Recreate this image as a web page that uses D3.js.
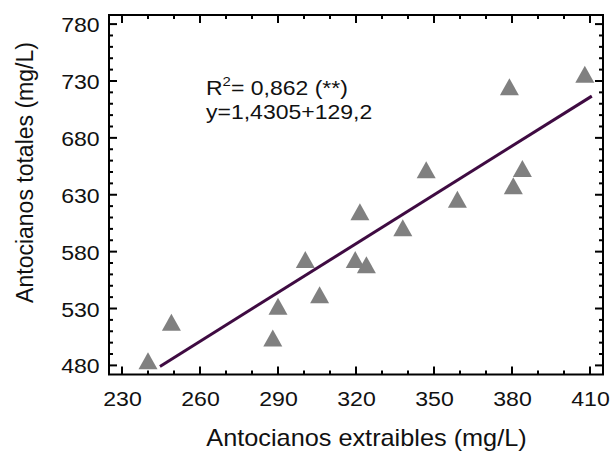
<!DOCTYPE html>
<html>
<head>
<meta charset="utf-8">
<script src="https://cdn.jsdelivr.net/npm/d3@7"></script>
<style>
  html, body { margin: 0; padding: 0; background: #fff; }
  svg text { font-family: "Liberation Sans", Arial, Helvetica, sans-serif; fill: #111; }
</style>
</head>
<body>
<svg id="chart" width="611" height="453"></svg>
<script>
// Antocianos extraibles (x) vs antocianos totales (y), mg/L
const extraibles = [240, 249, 288, 290, 300.5, 306, 319.7, 321.5, 324, 338, 347, 359, 379, 380.5, 384, 408];
const totales    = [484, 518, 504, 532, 573, 542, 573, 615, 568.5, 601, 652, 626, 725, 638, 653, 736];

// Regression y = a*x + b, drawn across the fitted span
const slope = 1.4305;
const intercept = 129.2;
const fitSpan = [244.6, 410.7];

const xTickValues = [230, 260, 290, 320, 350, 380, 410];
const yTickValues = [480, 530, 580, 630, 680, 730, 780];
const xTitle = "Antocianos extraibles (mg/L)";
const yTitle = "Antocianos totales  (mg/L)";
const r2Text = "0,862 (**)";
const eqText = "y=1,4305+129,2";

const svg = d3.select("#chart");
const plotL = 109, plotR = 603, plotT = 15, plotB = 374.5;
const wide = "scale(1.1,1)";   // slightly widened lettering

const x = d3.scaleLinear().domain([225, 415]).range([plotL, plotR]);
const y = d3.scaleLinear().domain([472, 788]).range([plotB, plotT]);

const minorX = d3.range(230, 411, 10);
const minorY = d3.range(480, 781, 10);

// tick marks drawn inward on all four sides
const tickG = svg.append("g").attr("stroke", "#000").attr("stroke-width", 2);
const isMajorX = v => xTickValues.includes(v);
const isMajorY = v => yTickValues.includes(v);

minorX.forEach(v => {
  const len = isMajorX(v) ? 8 : 4;
  tickG.append("line").attr("x1", x(v)).attr("x2", x(v)).attr("y1", plotB).attr("y2", plotB - len);
  tickG.append("line").attr("x1", x(v)).attr("x2", x(v)).attr("y1", plotT).attr("y2", plotT + len);
});
minorY.forEach(v => {
  const len = isMajorY(v) ? 8 : 4;
  tickG.append("line").attr("y1", y(v)).attr("y2", y(v)).attr("x1", plotL).attr("x2", plotL + len);
  tickG.append("line").attr("y1", y(v)).attr("y2", y(v)).attr("x1", plotR).attr("x2", plotR - len);
});

// axis labels via d3 axes (lines hidden, text only)
const xAxis = svg.append("g")
  .attr("transform", `translate(0,${plotB})`)
  .call(d3.axisBottom(x).tickValues(xTickValues).tickSize(0).tickPadding(31.5));
const yAxis = svg.append("g")
  .attr("transform", `translate(${plotL},0)`)
  .call(d3.axisLeft(y).tickValues(yTickValues).tickSize(0).tickPadding(8.5));
[xAxis, yAxis].forEach(g => {
  g.select(".domain").remove();
  g.selectAll("text")
    .attr("font-size", 21)
    .attr("font-family", "Liberation Sans, Arial, sans-serif")
    .attr("fill", "#111")
    .attr("transform", wide);
});
xAxis.selectAll("text").attr("dy", 0);
yAxis.selectAll("text").attr("dy", "0.36em");

// frame
svg.append("rect")
  .attr("x", plotL).attr("y", plotT)
  .attr("width", plotR - plotL).attr("height", plotB - plotT)
  .attr("fill", "none").attr("stroke", "#000").attr("stroke-width", 2);

// regression line
const line = d3.line().x(d => x(d)).y(d => y(slope * d + intercept));
svg.append("path")
  .datum(fitSpan)
  .attr("d", line)
  .attr("fill", "none")
  .attr("stroke", "#3f0b42")
  .attr("stroke-width", 3);

// triangle markers
const tw = 9.5, th = 8.5;
svg.append("g").selectAll("path")
  .data(extraibles.map((v, i) => [v, totales[i]]))
  .join("path")
  .attr("d", d => {
    const cx = x(d[0]), cy = y(d[1]);
    return `M${cx},${cy - th}L${cx + tw},${cy + th}L${cx - tw},${cy + th}Z`;
  })
  .attr("fill", "#808080");

// titles
svg.append("text")
  .attr("transform", `translate(366.5,446) ${wide}`)
  .attr("text-anchor", "middle")
  .attr("font-size", 23)
  .text(xTitle);

svg.append("text")
  .attr("transform", "translate(33,172.5) rotate(-90)")
  .attr("text-anchor", "middle")
  .attr("font-size", 23)
  .text(yTitle);

// fit annotation
const noteWide = "scale(1.15,1)";
const r2 = svg.append("text")
  .attr("transform", `translate(206,95) ${noteWide}`)
  .attr("font-size", 20);
r2.append("tspan").text("R");
r2.append("tspan").attr("font-size", 13).attr("dy", -9).text("2");
r2.append("tspan").attr("dy", 9).text("= " + r2Text);

svg.append("text")
  .attr("transform", `translate(206,118.5) ${noteWide}`)
  .attr("font-size", 20)
  .text(eqText);
</script>
</body>
</html>
